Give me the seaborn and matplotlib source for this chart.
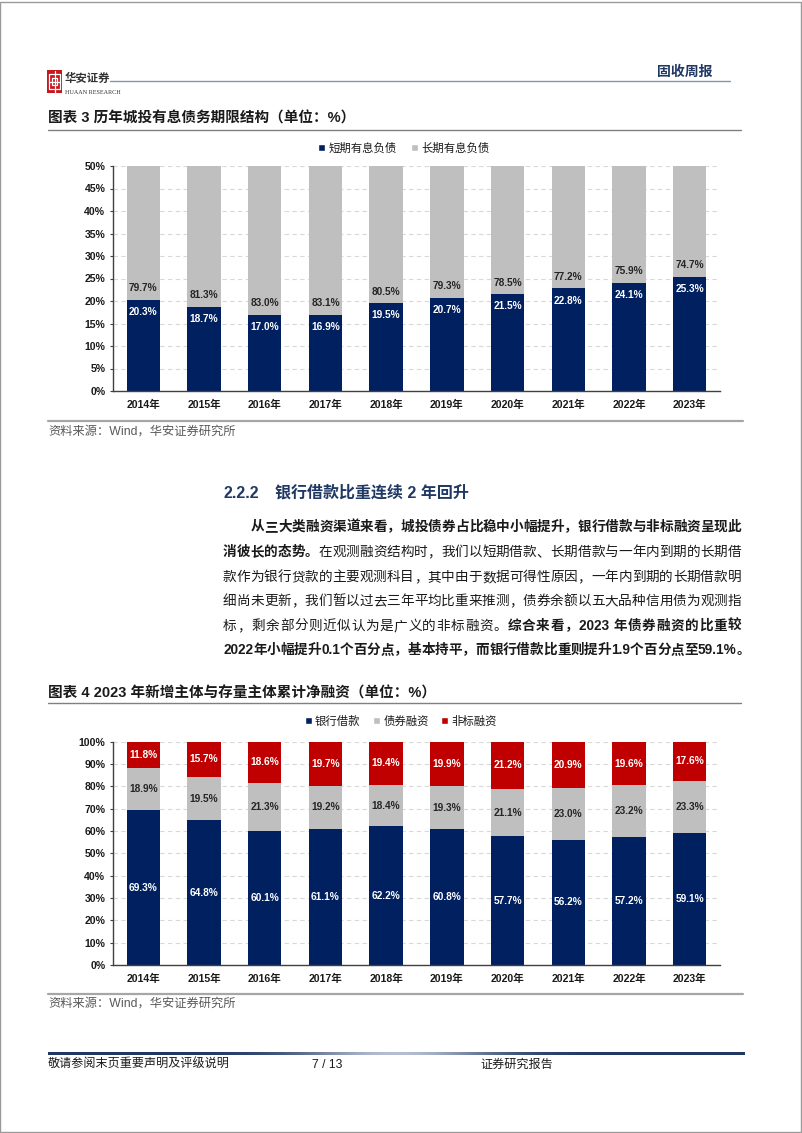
import matplotlib
matplotlib.use("Agg")
import matplotlib.pyplot as plt
import seaborn as sns
import numpy as np
import pandas as pd
from matplotlib.patches import Rectangle
from matplotlib.lines import Line2D
from matplotlib.colors import LinearSegmentedColormap

# ---------------- data ----------------
years = ["2014年", "2015年", "2016年", "2017年", "2018年",
         "2019年", "2020年", "2021年", "2022年", "2023年"]
short_debt = [20.3, 18.7, 17.0, 16.9, 19.5, 20.7, 21.5, 22.8, 24.1, 25.3]
long_debt = [79.7, 81.3, 83.0, 83.1, 80.5, 79.3, 78.5, 77.2, 75.9, 74.7]
bank_loan = [69.3, 64.8, 60.1, 61.1, 62.2, 60.8, 57.7, 56.2, 57.2, 59.1]
bond_fin = [18.9, 19.5, 21.3, 19.2, 18.4, 19.3, 21.1, 23.0, 23.2, 23.3]
nonstd_fin = [11.8, 15.7, 18.6, 19.7, 19.4, 19.9, 21.2, 20.9, 19.6, 17.6]
yticks_1 = [0, 5, 10, 15, 20, 25, 30, 35, 40, 45, 50]
yticks_2 = [0, 10, 20, 30, 40, 50, 60, 70, 80, 90, 100]
series_1 = ["短期有息负债", "长期有息负债"]
series_2 = ["银行借款", "债券融资", "非标融资"]

NAVY = "#002060"
GRAY = "#BFBFBF"
RED = "#C00000"
TXT = "#1A1A1A"

sns.set_theme(style="white")
plt.rcParams["font.family"] = ["Liberation Sans", "Noto Sans CJK SC"]
plt.rcParams["axes.unicode_minus"] = False

W, H = 802, 1133
fig = plt.figure(figsize=(W / 100, H / 100), dpi=100)


def fx(px):
    return px / W


def fy(py):
    return 1 - py / H


def ftext(x, y, s, **kw):
    kw.setdefault("va", "center")
    kw.setdefault("color", TXT)
    return fig.text(fx(x), fy(y), s, **kw)


def hline(x0, x1, y, color, lw):
    fig.add_artist(Line2D([fx(x0), fx(x1)], [fy(y), fy(y)],
                          transform=fig.transFigure, color=color, lw=lw))


# page border
fig.add_artist(Rectangle((0.0005, 0.0005), 0.998, 0.998, transform=fig.transFigure,
                         fill=False, edgecolor="#9A9A9A", lw=1))

# ---------------- header ----------------
fig.add_artist(Rectangle((fx(47), fy(93)), fx(62) - fx(47), (93 - 70) / H,
                         transform=fig.transFigure, facecolor="#C8161D", edgecolor="none"))
for (x0, y0, x1, y1) in [(49, 74, 60, 74), (49, 89, 60, 89), (49, 74, 49, 89), (60, 74, 60, 89),
                         (52, 78, 57, 78), (52, 85, 57, 85), (52, 78, 52, 85), (57, 78, 57, 85),
                         (54.5, 71, 54.5, 92), (49, 81.5, 60, 81.5)]:
    fig.add_artist(Line2D([fx(x0), fx(x1)], [fy(y0), fy(y1)], transform=fig.transFigure,
                          color="white", lw=0.9))
ftext(65, 78, "华安证券", fontsize=8.2, color="#333333", fontweight="bold",
      family=["Noto Sans CJK SC"])
ftext(65, 93, "HUAAN RESEARCH", fontsize=4.4, color="#333333", family=["Liberation Serif"])
hline(110, 730, 81, "#8496B0", 1.0)
ftext(712, 72, "固收周报", fontsize=10, color="#1F3864", fontweight="bold", ha="right")

# ---------------- chart 1 ----------------
ftext(48, 118, "图表 3 历年城投有息债务期限结构（单位：%）", fontsize=10.5, fontweight="bold")
hline(48, 741, 130, "#808080", 1.0)

df1 = pd.DataFrame({"year": years, "short": short_debt, "long": long_debt})
df1["total"] = df1["short"] + df1["long"]

ax1 = fig.add_axes([fx(113), fy(391), fx(720) - fx(113), (391 - 166) / H])
sns.barplot(data=df1, x="year", y="total", color=GRAY, saturation=1, width=0.55,
            errorbar=None, linewidth=0, ax=ax1)
sns.barplot(data=df1, x="year", y="short", color=NAVY, saturation=1, width=0.55,
            errorbar=None, linewidth=0, ax=ax1)
for i, (s, l) in enumerate(zip(short_debt, long_debt)):
    ax1.text(i, s - 2.7, f"{s:.1f}%", ha="center", va="center", color="white",
             fontsize=7.3, fontweight="bold")
    ax1.text(i, s + 2.6, f"{l:.1f}%", ha="center", va="center", color="#262626",
             fontsize=7.3, fontweight="bold")
ax1.set_ylim(0, 50)
ax1.set_xlim(-0.5, len(years) - 0.5)
ax1.set_yticks(yticks_1)
ax1.set_yticklabels([f"{t}%" for t in yticks_1])

df2 = pd.DataFrame({"year": years, "bank": bank_loan, "bond": bond_fin, "non": nonstd_fin})
df2["c2"] = df2["bank"] + df2["bond"]
df2["c3"] = df2["c2"] + df2["non"]

# ---------------- text block ----------------
ftext(223, 493, "2.2.2", fontsize=11.5, fontweight="bold", color="#1F3864")
ftext(275, 493, "银行借款比重连续 2 年回升", fontsize=11.5, fontweight="bold", color="#1F3864")

BODY_FS = 9.8
EM = BODY_FS * 100 / 72
LAT_W = {".": 0.278, "%": 0.889, " ": 0.278}


def tokenize(segs):
    out = []
    for text, bold in segs:
        buf = ""
        for ch in text:
            if ord(ch) < 128:
                buf += ch
            else:
                if buf:
                    out.append((buf, bold, False))
                    buf = ""
                out.append((ch, bold, True))
        if buf:
            out.append((buf, bold, False))
    return out


def justified(segs, x0, x1, y):
    toks = tokenize(segs)
    widths = []
    for t, b, cjk in toks:
        if cjk:
            widths.append(EM)
        else:
            widths.append(sum(LAT_W.get(c, 0.556) for c in t) * EM)
    extra = (x1 - x0 - sum(widths)) / max(len(toks) - 1, 1)
    x = x0
    for (t, b, cjk), w in zip(toks, widths):
        ftext(x, y, t, fontsize=BODY_FS, fontweight="bold" if b else "normal",
              ha="left", color=TXT)
        x += w + extra


lines = [
    ([("从三大类融资渠道来看，城投债券占比稳中小幅提升，银行借款与非标融资呈现此", True)], 251, 741, 527),
    ([("消彼长的态势。", True), ("在观测融资结构时，我们以短期借款、长期借款与一年内到期的长期借", False)], 223, 741, 552),
    ([("款作为银行贷款的主要观测科目，其中由于数据可得性原因，一年内到期的长期借款明", False)], 223, 741, 577),
    ([("细尚未更新，我们暂以过去三年平均比重来推测，债券余额以五大品种信用债为观测指", False)], 223, 741, 601),
    ([("标，剩余部分则近似认为是广义的非标融资。", False), ("综合来看，2023 年债券融资的比重较", True)], 223, 741, 626),
    ([("2022年小幅提升0.1个百分点，基本持平，而银行借款比重则提升1.9个百分点至59.1%。", True)], 223, 750, 650),
]
for segs, x0, x1, y in lines:
    justified(segs, x0, x1, y)

# ---------------- chart 2 ----------------
ftext(48, 693, "图表 4 2023 年新增主体与存量主体累计净融资（单位：%）", fontsize=10.5, fontweight="bold")
hline(48, 741, 703, "#808080", 1.0)

ax2 = fig.add_axes([fx(113), fy(965), fx(720) - fx(113), (965 - 741.7) / H])
sns.barplot(data=df2, x="year", y="c3", color=RED, saturation=1, width=0.55,
            errorbar=None, linewidth=0, ax=ax2)
sns.barplot(data=df2, x="year", y="c2", color=GRAY, saturation=1, width=0.55,
            errorbar=None, linewidth=0, ax=ax2)
sns.barplot(data=df2, x="year", y="bank", color=NAVY, saturation=1, width=0.55,
            errorbar=None, linewidth=0, ax=ax2)
for i, (b, d, n) in enumerate(zip(bank_loan, bond_fin, nonstd_fin)):
    ax2.text(i, b / 2, f"{b:.1f}%", ha="center", va="center", color="white",
             fontsize=7.3, fontweight="bold")
    ax2.text(i, b + d / 2, f"{d:.1f}%", ha="center", va="center", color="#262626",
             fontsize=7.3, fontweight="bold")
    ax2.text(i, b + d + n / 2, f"{n:.1f}%", ha="center", va="center", color="white",
             fontsize=7.3, fontweight="bold")
ax2.set_ylim(0, 100)
ax2.set_xlim(-0.5, len(years) - 0.5)
ax2.set_yticks(yticks_2)
ax2.set_yticklabels([f"{t}%" for t in yticks_2])

# common axis styling
for ax in (ax1, ax2):
    ax.set_xlabel("")
    ax.set_ylabel("")
    ax.set_facecolor("none")
    ax.set_axisbelow(True)
    ax.yaxis.grid(True, linestyle=(0, (4, 3)), color="#D9D9D9", lw=0.8)
    ax.xaxis.grid(False)
    for sp in ("top", "right"):
        ax.spines[sp].set_visible(False)
    for sp in ("left", "bottom"):
        ax.spines[sp].set_visible(True)
        ax.spines[sp].set_color("#404040")
        ax.spines[sp].set_linewidth(1.0)
    ax.tick_params(axis="y", which="major", direction="out", length=2.5, width=0.8,
                   color="#404040", pad=3, labelsize=7.6, labelcolor="#1A1A1A", left=True)
    ax.tick_params(axis="x", length=0, pad=6, labelsize=7.6, labelcolor="#1A1A1A")
    for lab in ax.get_xticklabels() + ax.get_yticklabels():
        lab.set_fontweight("bold")

# legends
h1 = [Rectangle((0, 0), 1, 1, facecolor=NAVY), Rectangle((0, 0), 1, 1, facecolor=GRAY)]
fig.legend(h1, series_1, loc="center", bbox_to_anchor=(fx(404), fy(148)), ncol=2,
           frameon=False, fontsize=8.2, handlelength=0.6, handleheight=0.6,
           handletextpad=0.3, columnspacing=1.3, labelcolor="#1A1A1A")
h2 = [Rectangle((0, 0), 1, 1, facecolor=NAVY), Rectangle((0, 0), 1, 1, facecolor=GRAY),
      Rectangle((0, 0), 1, 1, facecolor=RED)]
fig.legend(h2, series_2, loc="center", bbox_to_anchor=(fx(401), fy(721)), ncol=3,
           frameon=False, fontsize=8.2, handlelength=0.6, handleheight=0.6,
           handletextpad=0.3, columnspacing=1.1, labelcolor="#1A1A1A")

# chart frames bottom lines and sources
hline(48, 743, 421, "#A6A6A6", 1.6)
ftext(48, 432, "资料来源：Wind，华安证券研究所", fontsize=8.8, color="#595959")
hline(48, 743, 994, "#A6A6A6", 1.6)
ftext(48, 1004, "资料来源：Wind，华安证券研究所", fontsize=8.8, color="#595959")

# ---------------- footer ----------------
gax = fig.add_axes([fx(48), fy(1055), fx(745) - fx(48), 3 / H])
grad = 1 - 0.75 * np.exp(-((np.linspace(-1, 1, 300)) ** 2) / 0.08)
cmap = LinearSegmentedColormap.from_list("g", ["#E6ECF5", "#1F3864"])
gax.imshow(grad[None, :], aspect="auto", cmap=cmap, vmin=0, vmax=1)
gax.set_axis_off()
ftext(48, 1065, "敬请参阅末页重要声明及评级说明", fontsize=8.7)
ftext(327, 1065, "7 / 13", fontsize=8.7, ha="center")
ftext(480, 1065, "证券研究报告", fontsize=8.7)

fig.savefig("out.png", dpi=100)
